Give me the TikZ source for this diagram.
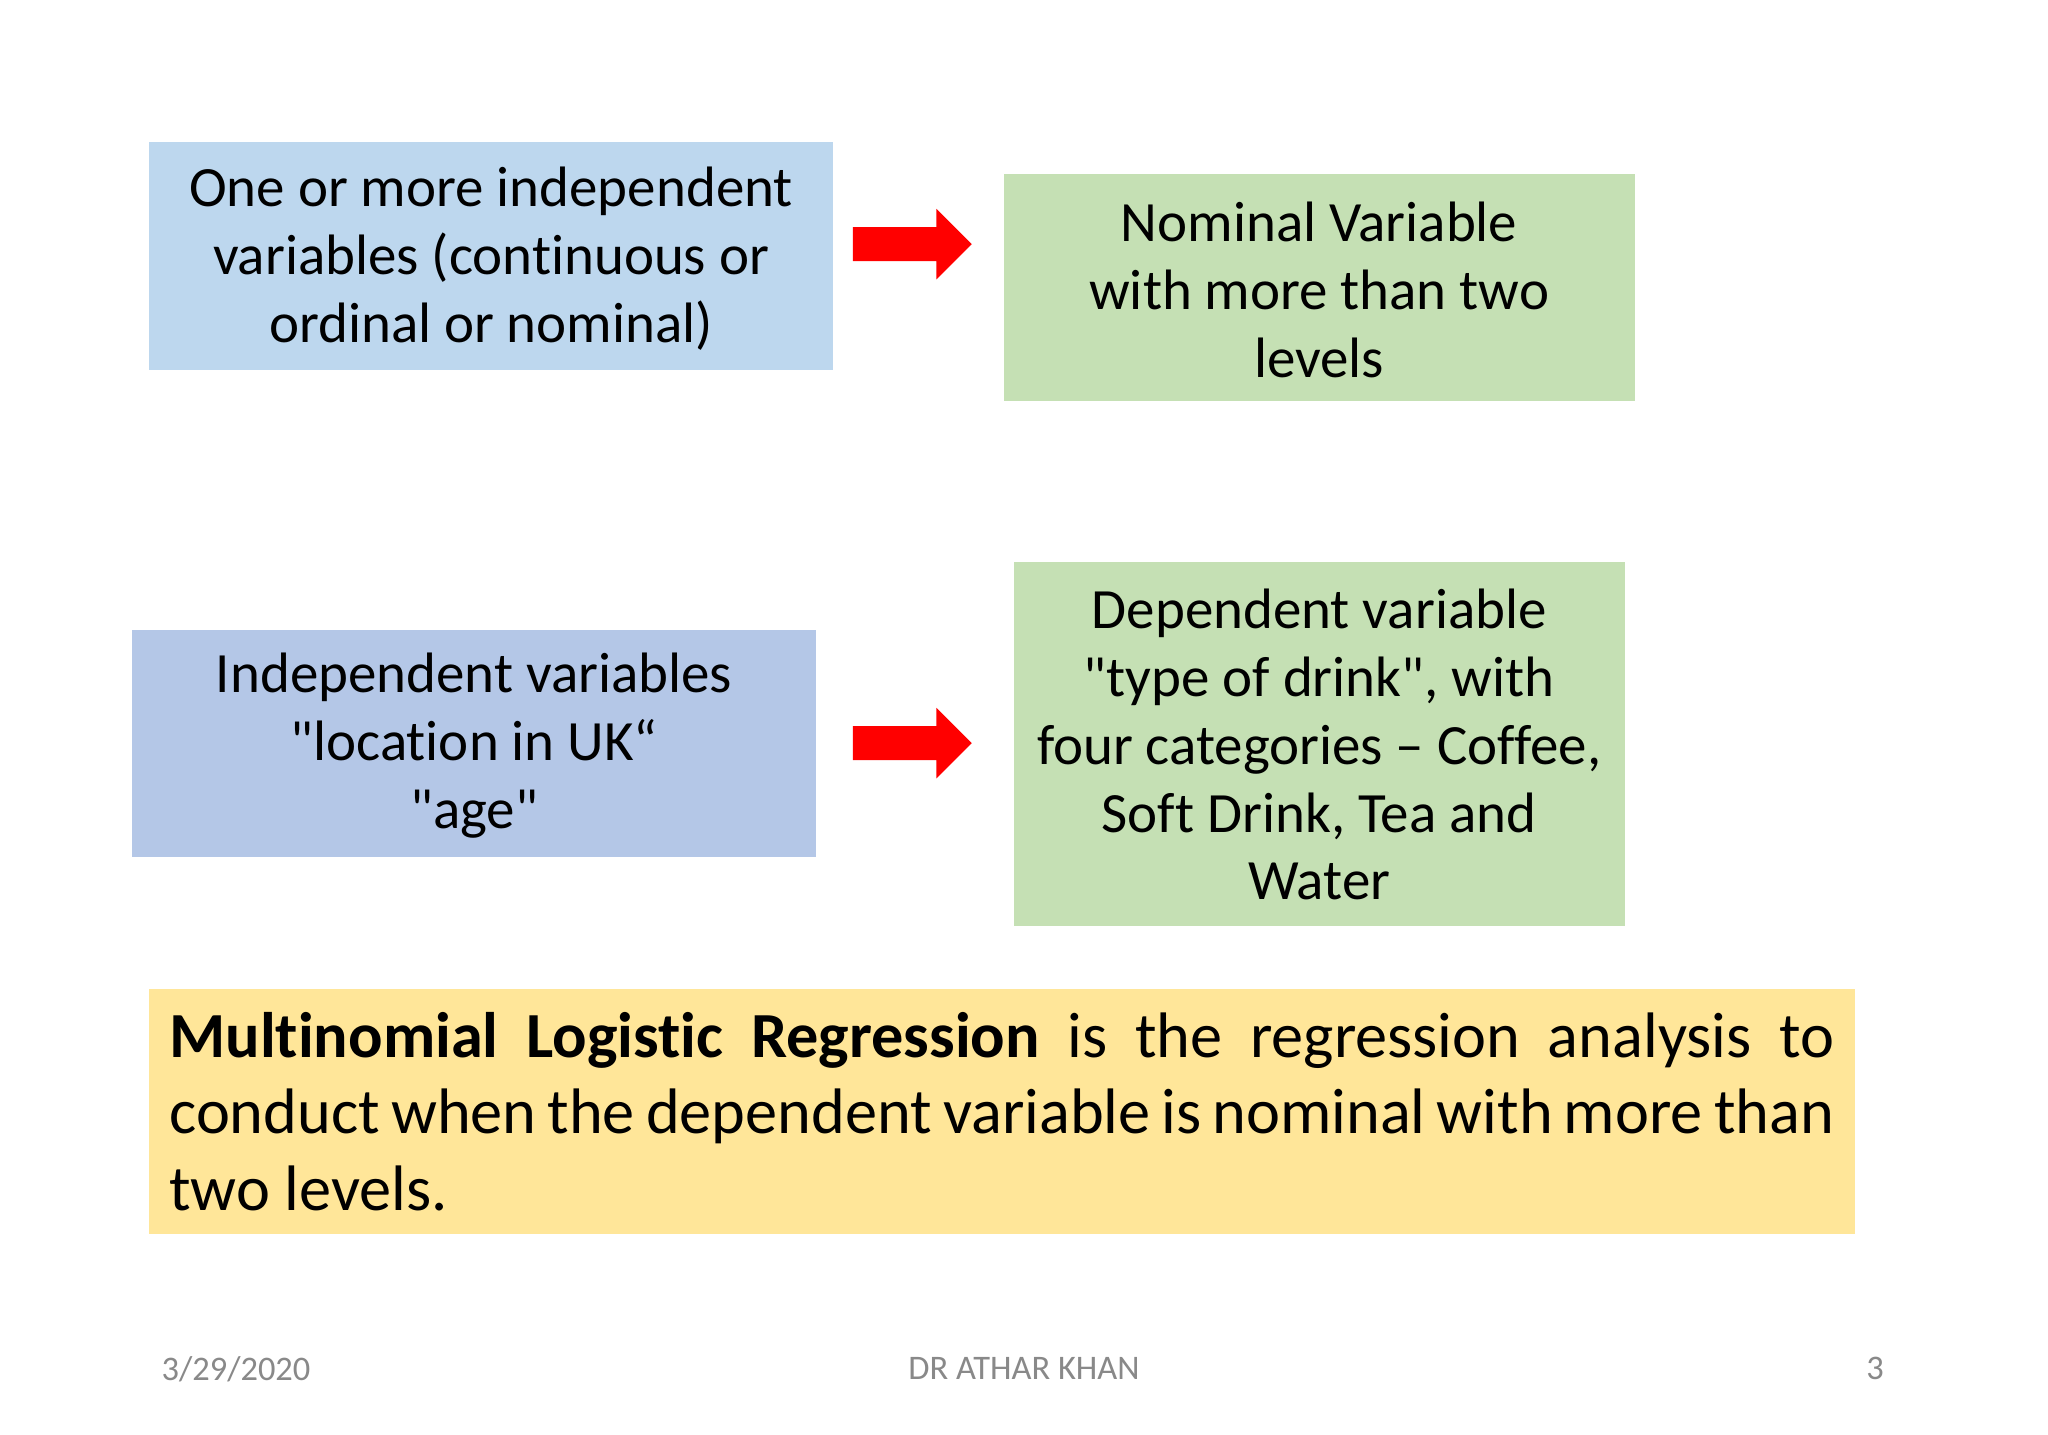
\documentclass[tikz,border=0pt]{standalone}
\usepackage{fontspec}
\setmainfont{Carlito}[RawFeature={-liga;-clig;-dlig;-calt}]
\hyphenpenalty=10000
\exhyphenpenalty=10000
\pretolerance=-1
\tolerance=9999
\begin{document}
\begin{tikzpicture}[x=0.01cm,y=-0.01cm,
  box/.style={inner sep=0pt,align=center,font=\fontsize{12.4}{14.8}\selectfont},
  redarrow/.style={fill=red},
  foot/.style={text=fgrey,font=\fontsize{7.5}{9}\selectfont,inner sep=0pt}]
\definecolor{bblue}{RGB}{189,215,238}
\definecolor{bblue2}{RGB}{180,199,231}
\definecolor{bgreen}{RGB}{197,224,180}
\definecolor{byellow}{RGB}{255,230,153}
\definecolor{fgrey}{RGB}{137,137,137}
\useasboundingbox[fill=white] (0,0) rectangle (1568,1098);
\fill[bblue] (114,109) rectangle (638,283);
\node[box] (a) at (376,198) {One or more independent\\variables (continuous or\\ordinal or nominal)};
\fill[bgreen] (769,133) rectangle (1252,307);
\node[box] (b) at (1010,222) {Nominal Variable\\with more than two\\levels};
\fill[bblue2] (101,482) rectangle (625,656);
\node[box] (c) at (363,571) {Independent variables\\\textquotedbl location in UK“\\\textquotedbl age\textquotedbl};
\fill[bgreen] (776,430) rectangle (1244,709);
\node[box] (d) at (1010,570) {Dependent variable\\\textquotedbl type of drink\textquotedbl, with\\four categories -- Coffee,\\Soft Drink, Tea and\\Water};
\fill[redarrow] (653,174) -- (717,174) -- (717,160) -- (744,187) -- (717,214) -- (717,200) -- (653,200) -- cycle;
\fill[redarrow] (653,556) -- (717,556) -- (717,542) -- (744,569) -- (717,596) -- (717,582) -- (653,582) -- cycle;
\fill[byellow] (114,757) rectangle (1420,945);
\node[inner sep=0pt,text width=12.74cm,align=justify,font=\fontsize{14}{16.6}\selectfont] (e) at (767,851)
 {\textbf{Multinomial Logistic Regression} is the regression analysis to conduct when the dependent variable is nominal with more than two levels.};
\node[foot,anchor=west] (f1) at (123,1048) {3/29/2020};
\node[foot] (f2) at (784,1048) {DR ATHAR KHAN};
\node[foot,anchor=east] (f3) at (1443,1048) {3};
\end{tikzpicture}
\end{document}
